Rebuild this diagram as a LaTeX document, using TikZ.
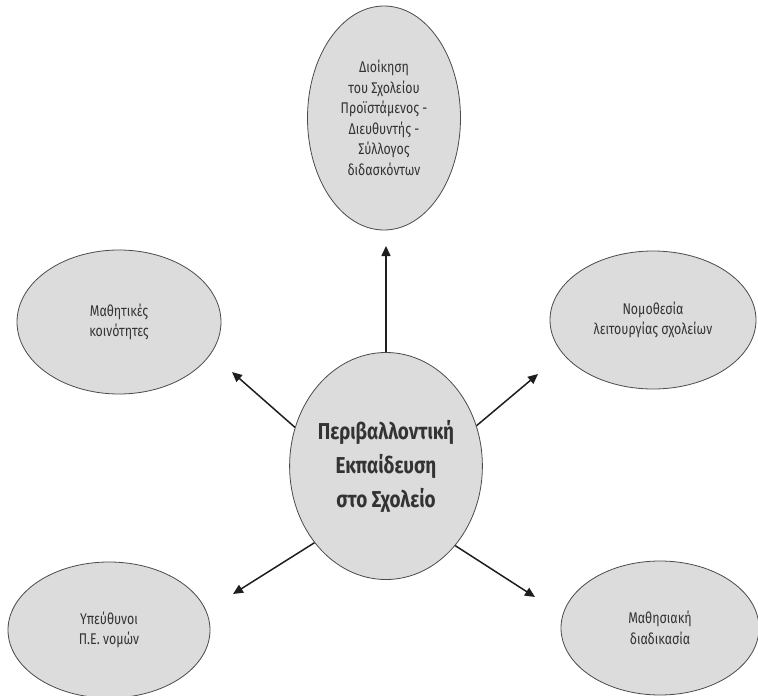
\documentclass[tikz,border=0pt]{standalone}
\usepackage{fontspec}
\setmainfont{Fira Sans}
\newfontfamily\labelfont[FakeStretch=0.80]{Fira Sans}
\newfontfamily\titlefont[FakeStretch=0.82]{Fira Sans}
\usetikzlibrary{arrows.meta,shapes.geometric}
\definecolor{bubblefill}{HTML}{DCDCDC}
\definecolor{bubbleline}{HTML}{4A4A4A}
\definecolor{inktext}{HTML}{333333}
\definecolor{arrowink}{HTML}{1E1E1E}
\tikzset{
  bubble/.style={ellipse, draw=bubbleline, line width=0.8pt, fill=bubblefill,
    inner sep=0pt, align=center, text=inktext,
    font=\labelfont\fontsize{15.5}{20.5}\selectfont},
  hub/.style={bubble, font=\titlefont\bfseries\fontsize{23}{34}\selectfont},
  link/.style={draw=arrowink, line width=1.5pt,
    -{Triangle[length=10pt,width=9pt]}}
}
\begin{document}
\begin{tikzpicture}[x=1pt,y=-1pt]
  \useasboundingbox (0,0) rectangle (758,696);
  % central theme
  \node[hub, minimum width=188pt, minimum height=227pt] (c) at (386,466)
    {Περιβαλλοντική\\Εκπαίδευση\\στο Σχολείο};
  % surrounding factors
  \node[bubble, minimum width=153pt, minimum height=224pt] (top) at (384,118)
    {Διοίκηση\\του Σχολείου\\Προϊστάμενος -\\Διευθυντής -\\Σύλλογος\\διδασκόντων};
  \node[bubble, minimum width=204pt, minimum height=144pt] (ul) at (119,322)
    {Μαθητικές\\κοινότητες};
  \node[bubble, minimum width=206pt, minimum height=138pt] (ur) at (653,320)
    {Νομοθεσία\\λειτουργίας σχολείων};
  \node[bubble, minimum width=202pt, minimum height=136pt] (ll) at (109,630)
    {Υπεύθυνοι\\Π.Ε. νομών};
  \node[bubble, minimum width=198pt, minimum height=134pt] (lr) at (660,628)
    {Μαθησιακή\\διαδικασία};
  % arrow tips
  \coordinate (tup) at (386,246);
  \coordinate (tul) at (232,372);
  \coordinate (tur) at (538,374);
  \coordinate (tll) at (233,594);
  \coordinate (tlr) at (535,597);
  % connectors
  \draw[link] (c.north) -- (tup);
  \draw[link] (c.157) -- (tul);
  \draw[link] (c.24) -- (tur);
  \draw[link] (c.227) -- (tll);
  \draw[link] (c.311) -- (tlr);
\end{tikzpicture}
\end{document}
